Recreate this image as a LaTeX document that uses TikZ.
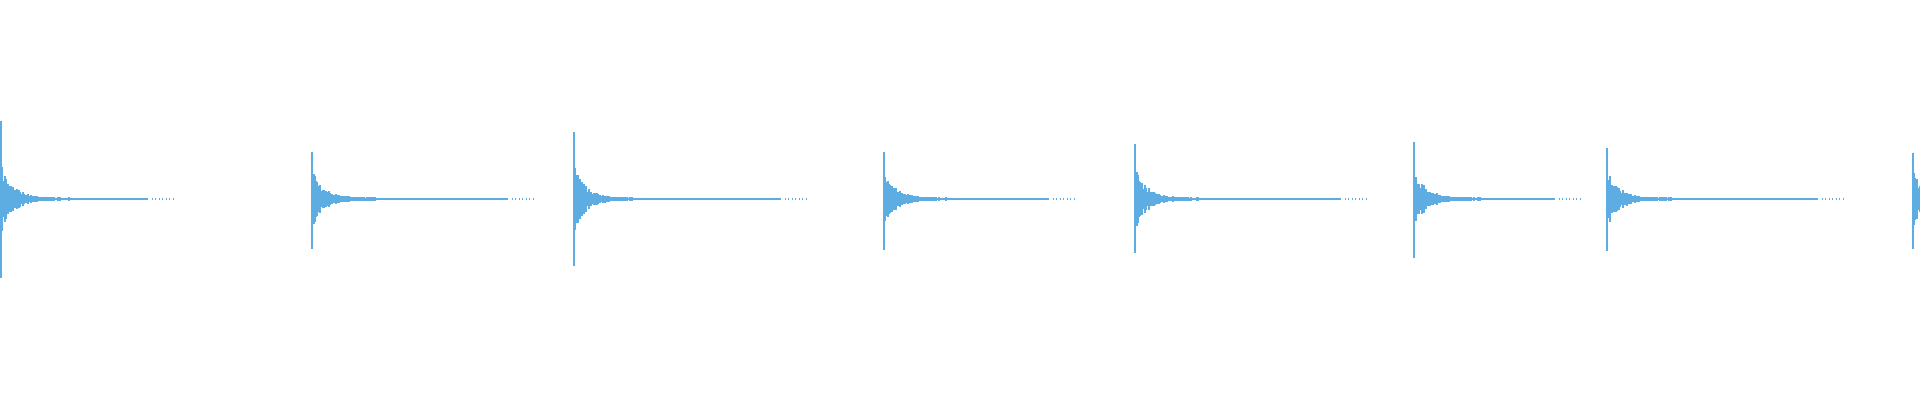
\documentclass[tikz,border=0pt]{standalone}
\definecolor{wav}{RGB}{93,172,226}
\begin{document}
\begin{tikzpicture}[x=1pt,y=-1pt,wv/.style={draw=wav,line width=1.1pt}]
\useasboundingbox (0,0) rectangle (1920,400);
\pgfmathsetseed{7}
\foreach \bx/\tp/\bt/\ln/\A in {1/121/278/147/36, 312/152/249/196/30, 574/132/266/207/34, 884/152/250/165/28, 1135/144/253/206/31, 1414/142/258/141/31, 1607/148/251/211/30, 1913/153/249/7/30}{
  \draw[wv] (\bx,\tp) -- (\bx,\bt);
  \foreach \t in {1,2,...,70}{
    \pgfmathsetmacro\h{\A*exp(-\t/11)*(0.45+0.55*rnd)+1.2+1.5*rnd*exp(-\t/40)}
    \draw[wav,line width=1.05pt] (\bx+\t,199-\h) -- (\bx+\t,199+\h);
  }
  \draw[wav,line width=1.4pt] (\bx+70,199) -- (\bx+\ln,199);
  \foreach \t in {1,2,...,7}{
    \fill[wav] (\bx+\ln+\t*3.5,198.3) rectangle ++(1.3,1.4);
  }
}
\end{tikzpicture}
\end{document}
